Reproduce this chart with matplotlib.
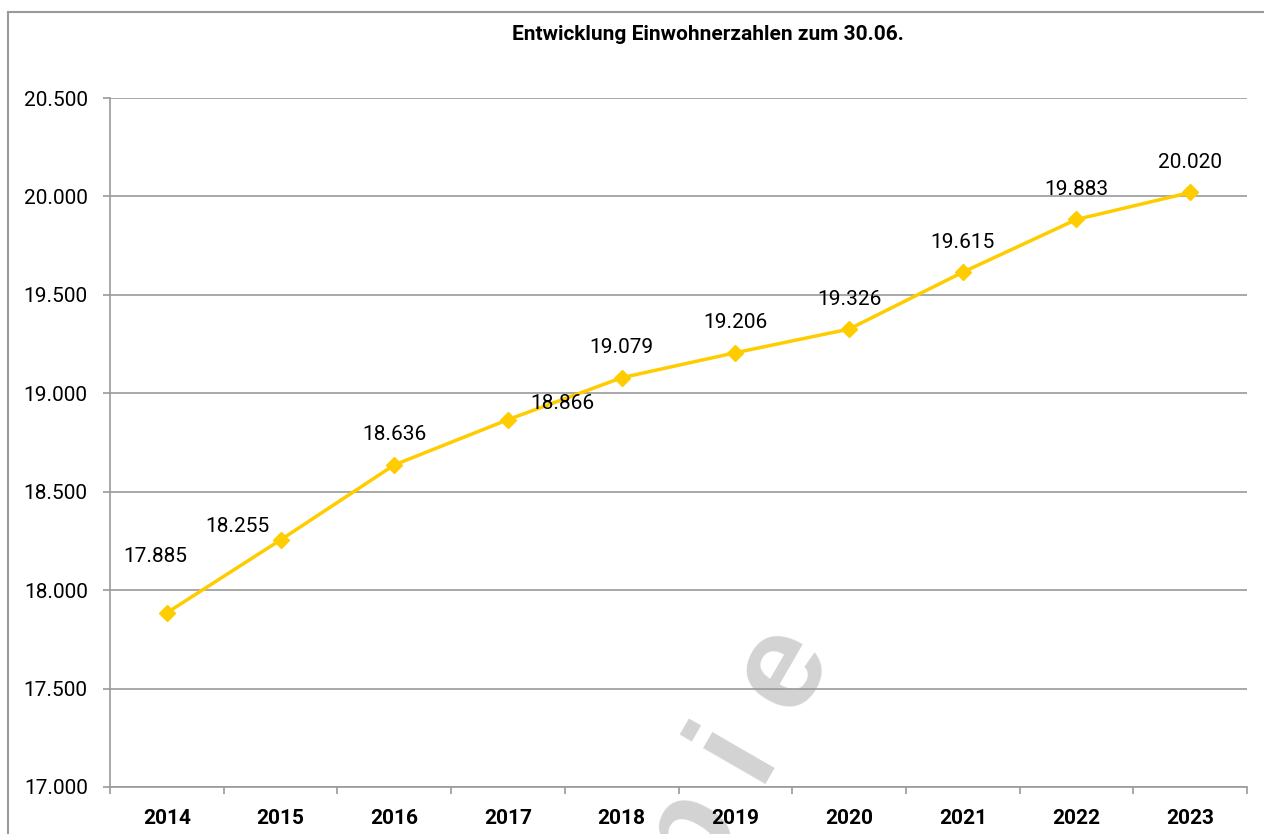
import numpy as np
import matplotlib.pyplot as plt
from matplotlib.lines import Line2D

plt.rcParams['font.family'] = ['Roboto', 'DejaVu Sans']

years = ['2014', '2015', '2016', '2017', '2018', '2019', '2020', '2021', '2022', '2023']
residents = [17885, 18255, 18636, 18866, 19079, 19206, 19326, 19615, 19883, 20020]
labels = ['17.885', '18.255', '18.636', '18.866', '19.079', '19.206', '19.326', '19.615', '19.883', '20.020']

W, H = 1264, 834
fig = plt.figure(figsize=(W / 100, H / 100), dpi=100)
ax = fig.add_axes([110 / W, 1 - 787 / H, 1137 / W, 689 / H])
ax.patch.set_visible(False)

# outer frame (left and top only are visible)
grey = '#9a9a9a'
fig.add_artist(Line2D([8 / W, 8 / W], [0, 1 - 12 / H], color=grey, lw=1.5, transform=fig.transFigure))
fig.add_artist(Line2D([8 / W, 1], [1 - 12 / H, 1 - 12 / H], color=grey, lw=1.5, transform=fig.transFigure))

# watermark "Kopie", spaced letters running up at 60 degrees, behind everything
mark = 'Kopie'
end_x, end_y = 813, 685   # baseline centre of the last letter, in pixels from top-left
step = 95
ang = np.radians(60)
for k, ch in enumerate(mark):
    back = len(mark) - 1 - k
    px = end_x - back * step * np.cos(ang)
    py = end_y + back * step * np.sin(ang)
    fig.text(px / W, 1 - py / H, ch, rotation=60, rotation_mode='anchor',
             ha='center', va='baseline', fontsize=98, fontweight='bold', color='#d3d3d3',
             family=['Liberation Sans', 'DejaVu Sans'], zorder=-5)

x = np.arange(len(years))
ax.plot(x, residents, color='#ffcc00', lw=2.5, marker='D', ms=8, zorder=3)

offsets = {0: (-12, 56), 1: (-43, 13), 3: (54, 16)}
for i, (v, t) in enumerate(zip(residents, labels)):
    dx, dy = offsets.get(i, (0, 30))
    ax.annotate(t, (i, v), xytext=(dx * 0.72, dy * 0.72), textcoords='offset points',
                ha='center', va='center', fontsize=15, zorder=4)

ax.set_xlim(-0.5, len(years) - 0.5)
ax.set_ylim(17000, 20500)
ax.set_yticks(np.arange(17000, 20501, 500))
ax.set_yticklabels([f'{v // 1000}.{v % 1000:03d}' for v in range(17000, 20501, 500)], fontsize=15)
ax.yaxis.grid(True, color=grey, lw=1.2)
ax.set_axisbelow(True)

ax.set_xticks(x)
ax.set_xticklabels(years, fontsize=15, fontweight='bold')
ax.set_xticks(np.arange(-0.5, len(years), 1), minor=True)
ax.tick_params(axis='x', which='major', length=0, pad=16)
ax.tick_params(axis='x', which='minor', length=5, color=grey, width=1.2)
ax.tick_params(axis='y', length=5, color=grey, width=1.2, pad=11)

for s in ['top', 'right']:
    ax.spines[s].set_visible(False)
for s in ['left', 'bottom']:
    ax.spines[s].set_color(grey)
    ax.spines[s].set_linewidth(1.2)

fig.text(708 / W, 1 - 35 / H, 'Entwicklung Einwohnerzahlen zum 30.06.',
         ha='center', va='center', fontsize=15, fontweight='bold')

fig.savefig('out.png', dpi=100)
